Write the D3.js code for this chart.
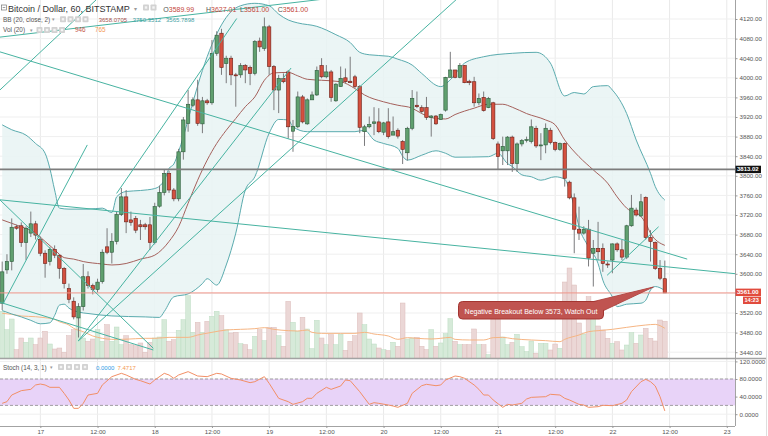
<!DOCTYPE html>
<html><head><meta charset="utf-8">
<script src="https://cdn.jsdelivr.net/npm/d3@7"></script>
<style>
html,body{margin:0;padding:0;background:#fff;}
svg{display:block;font-family:"Liberation Sans",Arial,sans-serif;}
</style></head><body>
<svg id="c" width="768" height="436"></svg>
<script>
// ---------- DATA (hourly candles, index 0 = 16th 16:00) ----------
const opens=[3540,3608,3625,3696,3698,3664,3683,3702,3670,3642, 3625,3650,3638,3611,3570,3544,3510,3533,3594,3576, 3568,3584,3655,3644,3666,3721,3757,3710,3713,3700, 3700,3700,3664,3738,3766,3805,3771,3753,3849,3907, 3944,3955,3906,3953,3949,4050,4091,4029,4040,4006, 4006,4025,4021,4009,4075,4060,4104,4023,3975,3999, 4012,3891,3900,3961,3906,3955,3965,4025,4002,4012, 3953,3982,4000,3993,4002,3982,3890,3900,3907,3910, 3889,3910,3883,3893,3870,3847,3897,3944,3939,3939, 3919,3922,3915,3934,4001,4016,4001,4025,3993,3992, 3949,3960,3939,3949,3865,3851,3851,3879,3825,3865, 3872,3870,3897,3861,3863,3893,3868,3854,3866,3787, 3755,3691,3683,3691,3642,3652,3652,3620,3628,3661, 3649,3634,3698,3730,3718,3756,3674,3664,3611,3589.99];
const highs=[3625,3640,3713,3700,3705,3697,3727,3708,3676,3648, 3655,3658,3640,3614,3580,3552,3540,3620,3605,3580, 3590,3650,3693,3683,3728,3775,3771,3727,3718,3710, 3704,3716,3745,3780,3812,3810,3775,3855,3920,3975, 3960,3996,3961,3957,4077,4095,4100,4045,4045,4010, 4030,4028,4025,4077,4082,4123,4108,4026,4006,4009, 4016,3914,3972,3965,3958,3972,4023,4040,4026,4016, 3989,4023,4019,4043,4006,3985,3904,3921,3940,3938, 3910,3938,3921,3897,3873,3900,3975,3972,3944,3961, 3924,3924,3927,4002,4053,4016,4030,4026,3996,4002, 3968,3972,3961,3951,3870,3880,3881,3882,3868,3875, 3880,3915,3902,3887,3907,3898,3870,3868,3868,3790, 3764,3737,3697,3710,3669,3706,3662,3625,3662,3664, 3669,3700,3761,3735,3763,3758,3689,3666,3628,3627.01];
const lows=[3526,3600,3607,3690,3655,3628,3675,3670,3636,3592, 3617,3632,3590,3570,3540,3507,3470,3525,3570,3558, 3562,3580,3640,3621,3660,3718,3683,3698,3683,3669, 3690,3649,3660,3735,3760,3765,3748,3748,3833,3890, 3940,3902,3887,3945,3945,4045,4006,3989,3985,3941, 4000,3989,3985,4005,4053,4055,4006,3934,3928,3989, 3876,3849,3897,3907,3904,3955,3963,3999,3999,3951, 3951,3982,3989,3989,3979,3887,3861,3897,3883,3887, 3883,3876,3883,3876,3824,3831,3893,3938,3927,3914, 3880,3904,3914,3931,4001,3999,3999,3989,3985,3941, 3944,3931,3938,3873,3812,3822,3822,3808,3808,3860, 3868,3866,3857,3832,3846,3864,3850,3851,3778,3752, 3642,3669,3680,3615,3574,3628,3604,3612,3601,3645, 3628,3630,3696,3717,3716,3670,3625,3608,3587,3561];
const closes=[3604,3625,3695,3693,3664,3693,3702,3679,3642,3621, 3650,3638,3611,3580,3548,3512,3533,3594,3576,3568, 3583,3644,3644,3666,3721,3757,3706,3705,3689,3696, 3696,3664,3737,3766,3805,3771,3753,3849,3914,3946, 3955,3907,3953,3949,4050,4087,4021,4040,4006,4004, 4025,4016,4009,4074,4063,4104,4023,3975,3999,3992, 3900,3901,3961,3910,3955,3965,4015,4002,4012,3960, 3987,3999,3992,3990,3982,3899,3900,3905,3910,3890, 3908,3880,3890,3881,3854,3897,3958,3941,3931,3919, 3922,3906,3925,4001,4016,4001,4025,3990,3990,3949, 3958,3933,3958,3876,3839,3860,3879,3825,3865,3872, 3874,3900,3861,3863,3897,3868,3854,3866,3795,3755, 3691,3683,3691,3632,3652,3645,3621,3618,3661,3649, 3634,3698,3734,3720,3747,3674,3666,3611,3591,3561];
const volumes=[1200,728,1003,214,514,403,514,343,514,686, 360,231,257,146,574,728,1028,514,428,488, 728,428,857,428,797,343,574,343,317,386, 146,403,514,540,985,428,471,711,985,1602, 660,917,660,943,1071,1200,1088,728,643,660, 368,343,214,557,728,446,788,788,574,300, 1457,917,686,1046,746,240,968,514,343,600, 343,617,197,428,574,1157,857,488,360,257, 214,189,403,300,1414,488,514,531,300,214, 728,300,386,626,1011,428,343,343,343,746, 343,343,86,986,986,540,343,400,609,291, 163,437,120,377,377,206,360,249,1954,2314, 1877,900,617,1576,1190,823,720,506,377,420, 206,334,651,377,591,763,506,437,977,946];

// Volume MA (20) read at sampled bars
const volMaIdx=[0,2,4,7,9,11,12,14,15,17,19,21,23,25,28,30,32,35,39,41,44,47,50,53,55,57,60,62,64,65,67,71,74,76,78,81,83,85,87,90,92,94,95,98,101,103,105,107,111,114,117,118,121,123,125,128,131,135,137,138,139];
const volMaVal=[1149,1123,1080,1062,1036,994,933,848,763,677,566,506,480,480,497,506,506,531,531,591,660,720,737,754,780,737,703,694,720,660,634,634,634,660,617,566,480,523,506,489,506,531,480,463,463,523,531,497,463,446,420,480,591,677,703,737,788,848,865,831,765];

// Bollinger Bands (20, close, 2) read at sampled bars
const bbUpIdx=[0,2,5,7,9,10,11,12,14,18,21,23,24,26,29,32,34,35,36,37,38,40,42,44,46,48,50,53,56,58,60,62,66,70,73,75,77,81,83,86,88,92,94,97,101,107,112,115,118,120,122,124,127,128,131,133,136,137,139];
const bbUpVal=[3904,3894,3883,3866,3846,3815,3771,3734,3732,3732,3734,3725,3757,3768,3770,3774,3791,3815,3824,3849,3880,3950,4015,4068,4108,4135,4147,4152,4147,4130,4118,4112,4105,4088,4072,4052,4047,4044,4038,4026,4009,3982,3996,4030,4043,4050,4052,4030,3963,3970,3967,3982,3984,3975,3927,3873,3805,3778,3750.3512];
const bbLoIdx=[0,2,4,6,8,10,11,12,13,14,16,18,23,30,33,34,36,39,42,43,45,47,49,51,53,56,58,60,61,64,74,76,78,80,83,84,85,88,91,93,95,102,104,106,107,109,111,113,116,118,119,120,121,123,125,126,128,129,131,134,135,136,137,139];
const bbLoVal=[3525,3518,3512,3505,3498,3500,3515,3536,3538,3530,3522,3519,3514,3512,3511,3523,3553,3559,3580,3590,3577,3618,3683,3771,3798,3887,3915,3914,3900,3890,3890,3893,3873,3866,3856,3840,3832,3842,3851,3846,3838,3839,3846,3825,3819,3802,3798,3791,3798,3793,3771,3737,3696,3655,3621,3587,3553,3533,3538,3540,3546,3567,3574,3565.7898];
const bbMidIdx=[0,2,4,7,9,11,13,15,17,21,23,26,29,32,35,37,39,41,43,45,47,49,51,53,55,57,60,62,64,67,71,74,76,80,83,86,88,91,93,95,99,102,105,107,110,114,116,118,121,124,127,129,131,134,135,136,139];
const bbMidVal=[3710,3703,3696,3683,3666,3649,3633,3630,3625,3620,3618,3621,3630,3638,3666,3696,3744,3791,3832,3866,3893,3917,3941,3961,3995,4010,4011,4004,3997,3995,3992,3978,3965,3951,3944,3938,3927,3917,3916,3925,3938,3946,3946,3940,3927,3914,3904,3873,3839,3812,3785,3757,3734,3717,3703,3683,3658.0705];

// Stochastic (14,3,1) read at sampled bars
const stochIdx=[0,1,2,4,6,7,8,9,10,12,13,14,15,16,17,18,20,21,23,25,26,28,29,31,32,34,35,36,37,39,41,43,45,46,48,50,52,53,55,56,58,60,61,63,64,65,66,68,69,71,72,73,75,77,78,79,81,82,83,85,86,88,89,91,92,93,95,96,97,99,100,101,102,103,105,106,107,109,110,111,114,115,117,118,119,121,122,123,125,126,128,130,131,132,134,135,136,137,138,139];
const stochVal=[24.7,28.5,43.6,53.5,56.5,66.4,68.6,66.4,61.1,61.1,47.4,32.3,13.3,13.3,24.7,43.6,47.4,66.4,85.3,92.9,89.1,79.2,76.2,68.6,77.7,92.9,89.1,81.5,89.1,96.7,86.8,85.3,92.9,91.4,81.5,77.7,71.7,73.9,85.3,70.2,36.1,28.5,22.4,28.5,36.1,36.1,47.4,61.1,56.5,64.1,77.7,76.2,51.2,22.4,26.2,24.7,20.9,18.6,15.6,24.7,47.4,64.8,67.9,64.8,66.4,77.7,86.8,85.3,81.5,66.4,56.5,43.6,43.6,32.3,15.6,22.4,20.9,24.7,34.5,38.3,39.8,45.2,43.6,36.1,32.3,22.4,20.9,15.6,17.1,20.2,19.4,24.7,32.3,51.2,73.9,79.2,73.9,64.1,39.8,7.4717];
const stochK=0;

// Trend-line drawings: [barIndex, price] endpoints
const trendLines=[
 [[-0.5,4083],[80,4175]],
 [[-0.5,4053],[143.7,3630]],
 [[-0.5,3751],[154,3600]],
 [[-0.5,3751],[31.7,3448]],
 [[-0.5,3542],[31.7,3444.5]],
 [[-0.5,3975],[22,4180]],
 [[0.23,3540],[17.85,3863]],
 [[15.96,3463],[60.6,4020]],
 [[15.96,3463],[97,4175]],
 [[24.0,3764],[49.2,4121]],
 [[126.9,3597],[137.7,3696]]
];
const hLevels=[3813.02,3561.00];

const priceTicks=[3440,3480,3520,3560,3600,3640,3680,3720,3760,3800,3840,3880,3920,3960,4000,4040,4080,4120];
const stochTicks=[0,40,80,120];
const timeTickIdx=[8,20,32,44,56,68,80,92,104,116,128,140,152];
const timeTickLabels=["17","12:00","18","12:00","19","12:00","20","12:00","21","12:00","22","12:00","23"];

const noteText="Negative Breakout Below 3573, Watch Out";
const notePoint=[136.6,3573];

// ---------- SCALES ----------
const svg=d3.select("#c");
const PR=735, PB=358, SB=426;
const x=d3.scaleLinear().domain([0,152]).range([2.2,2.2+4.767*152]);
const y=d3.scaleLinear().domain([3440,4120]).range([352.2,19]);
const yV=d3.scaleLinear().domain([0,2700]).range([358,253]);
const yS=d3.scaleLinear().domain([0,120]).range([414.2,361.4]);
const bw=4.767;
const FONT="Liberation Sans, Arial, sans-serif";

const defs=svg.append("defs");
defs.append("clipPath").attr("id","cp").append("rect").attr("x",0).attr("y",0).attr("width",PR).attr("height",PB);
defs.append("clipPath").attr("id","cs").append("rect").attr("x",0).attr("y",PB+1).attr("width",PR).attr("height",SB-PB-1);

// grid
const g=svg.append("g");
g.selectAll(".vg").data(timeTickIdx).join("line").attr("x1",d=>x(d)).attr("x2",d=>x(d)).attr("y1",0).attr("y2",SB).attr("stroke","#e9e9e9").attr("stroke-width",1);
g.selectAll(".hg").data(priceTicks).join("line").attr("x1",0).attr("x2",PR).attr("y1",d=>y(d)).attr("y2",d=>y(d)).attr("stroke","#efefef");
g.selectAll(".sg").data(stochTicks).join("line").attr("x1",0).attr("x2",PR).attr("y1",d=>yS(d)).attr("y2",d=>yS(d)).attr("stroke","#efefef");

const pane=svg.append("g").attr("clip-path","url(#cp)");
const pts=(I,V)=>I.map((d,k)=>[x(d),y(V[k])]);
const curve=d3.curveMonotoneX;
const lineGen=d3.line().curve(curve);
// BB fill
const up=pts(bbUpIdx,bbUpVal), lo=pts(bbLoIdx,bbLoVal);
const fillPath=lineGen(up)+"L"+lineGen(lo.slice().reverse()).slice(1)+"Z";
pane.append("path").attr("d",fillPath).attr("fill","#e7f3f3").attr("opacity",0.85);

// volume
const isUp=i=>closes[i]>=opens[i];
pane.selectAll(".vb").data(volumes).join("rect")
 .attr("x",(d,i)=>x(i)-bw/2).attr("width",bw)
 .attr("y",d=>yV(d)).attr("height",d=>PB-yV(d))
 .attr("fill",(d,i)=>isUp(i)?"#d6ead9":"#ebd7d6")
 .attr("stroke",(d,i)=>isUp(i)?"#bcdcc2":"#dcbcba").attr("stroke-width",0.5);
pane.append("path").attr("d",d3.line().curve(curve)(volMaIdx.map((d,k)=>[x(d),yV(volMaVal[k])])))
 .attr("fill","none").attr("stroke","#f6b583").attr("stroke-width",1);

// BB lines
pane.append("path").attr("d",lineGen(up)).attr("fill","none").attr("stroke","#5aabae").attr("stroke-width",1);
pane.append("path").attr("d",lineGen(lo)).attr("fill","none").attr("stroke","#5aabae").attr("stroke-width",1);
pane.append("path").attr("d",lineGen(pts(bbMidIdx,bbMidVal))).attr("fill","none").attr("stroke","#a5615c").attr("stroke-width",1);

// candles
const cg=pane.append("g");
cg.selectAll(".wk").data(closes).join("line")
 .attr("x1",(d,i)=>x(i)).attr("x2",(d,i)=>x(i))
 .attr("y1",(d,i)=>y(highs[i])).attr("y2",(d,i)=>y(lows[i]))
 .attr("stroke","#7b7b7d").attr("stroke-width",1);
cg.selectAll(".bd").data(closes).join("rect")
 .attr("x",(d,i)=>x(i)-1.7).attr("width",3.4)
 .attr("y",(d,i)=>y(Math.max(opens[i],d)))
 .attr("height",(d,i)=>Math.max(0.8,Math.abs(y(opens[i])-y(d))))
 .attr("fill",(d,i)=>isUp(i)?"#5f9f6e":"#d4503f")
 .attr("stroke",(d,i)=>isUp(i)?"#2b5a3a":"#6b2018").attr("stroke-width",0.6);

// horizontal levels
pane.append("line").attr("x1",0).attr("x2",PR).attr("y1",y(hLevels[0])).attr("y2",y(hLevels[0])).attr("stroke","#7d7d7d").attr("stroke-width",1.8);
pane.append("line").attr("x1",0).attr("x2",PR).attr("y1",y(hLevels[1])).attr("y2",y(hLevels[1])).attr("stroke","#f0958a").attr("stroke-width",1);

// trend lines
pane.selectAll(".tl").data(trendLines).join("line")
 .attr("x1",d=>x(d[0][0])).attr("y1",d=>y(d[0][1])).attr("x2",d=>x(d[1][0])).attr("y2",d=>y(d[1][1]))
 .attr("stroke","#47b3a1").attr("stroke-width",1);

// callout
const tip=[x(notePoint[0]),y(notePoint[1])];
const bx=458.5, by=301.5, bwid=145, bh=17.5;
const ng=svg.append("g");
ng.append("polygon").attr("points",[[bx+bwid-14,by+1],tip,[bx+bwid-3,by+bh-7]].map(p=>p.join(",")).join(" "))
 .attr("fill","#c05450").attr("stroke","#a33531").attr("stroke-width",0.8);
ng.append("rect").attr("x",bx).attr("y",by).attr("width",bwid).attr("height",bh).attr("rx",4)
 .attr("fill","#c05450").attr("stroke","#a33531").attr("stroke-width",1);
ng.append("polygon").attr("points",[[bx+bwid-13.5,by+1.5],tip,[bx+bwid-3.5,by+bh-7.5]].map(p=>p.join(",")).join(" "))
 .attr("fill","#c05450");
ng.append("text").attr("x",bx+bwid/2).attr("y",by+12).attr("text-anchor","middle")
 .attr("font-size",7).attr("fill","#fff").attr("font-family",FONT).text(noteText);

// stoch pane
const sp=svg.append("g").attr("clip-path","url(#cs)");
sp.append("rect").attr("x",0).attr("width",PR).attr("y",yS(80)).attr("height",yS(20)-yS(80)).attr("fill","#e8d3f8");
[80,20].forEach(v=>sp.append("line").attr("x1",0).attr("x2",PR).attr("y1",yS(v)).attr("y2",yS(v)).attr("stroke","#8a8a8a").attr("stroke-dasharray","3,2").attr("stroke-width",0.8));
sp.append("path").attr("d",d3.line()(stochIdx.map((d,k)=>[x(d),yS(stochVal[k])]))).attr("fill","none").attr("stroke","#f28f66").attr("stroke-width",1);

// frame lines
svg.append("line").attr("x1",0).attr("x2",766).attr("y1",PB+0.5).attr("y2",PB+0.5).attr("stroke","#a3a3a3").attr("stroke-width",1.5);
svg.append("line").attr("x1",0).attr("x2",PR).attr("y1",SB+0.5).attr("y2",SB+0.5).attr("stroke","#a3a3a3");
svg.append("line").attr("x1",PR+0.5).attr("x2",PR+0.5).attr("y1",0).attr("y2",SB).attr("stroke","#a3a3a3");
svg.append("line").attr("x1",766.5).attr("x2",766.5).attr("y1",0).attr("y2",436).attr("stroke","#dedede");

// axes
const lastClose=closes[closes.length-1];
const styleAxis=sel=>{sel.select(".domain").remove();sel.selectAll("line").attr("stroke","#999");sel.selectAll("text").attr("fill","#555").attr("font-size",6.2).attr("font-family",FONT);};
const pAx=svg.append("g").attr("transform",`translate(${PR},0)`).call(d3.axisRight(y).tickValues(priceTicks).tickFormat(d3.format(".2f")).tickSize(2.5).tickPadding(2)).call(styleAxis);
// ticks hidden behind the last-price label
pAx.selectAll(".tick").filter(d=>Math.abs(y(d)-y(lastClose))<6).select("text").remove();
svg.append("g").attr("transform",`translate(${PR},0)`).call(d3.axisRight(yS).tickValues(stochTicks).tickFormat(d3.format(".4f")).tickSize(2.5).tickPadding(2)).call(styleAxis);
svg.append("g").attr("transform",`translate(0,${SB})`).call(d3.axisBottom(x).tickValues(timeTickIdx).tickFormat((d,i)=>timeTickLabels[i]).tickSize(2).tickPadding(1.5)).call(styleAxis);

// price label boxes
const lbl=(v,txt,fill,yOff,xOff,fs)=>{
 const yy=y(v)+yOff;
 svg.append("rect").attr("x",PR+xOff).attr("y",yy-3.7).attr("width",761-PR-xOff).attr("height",7.4).attr("fill",fill);
 svg.append("text").attr("x",PR+xOff+1.5).attr("y",yy+2).attr("font-size",fs).attr("fill","#fff").attr("font-weight","bold").attr("font-family",FONT).text(txt);
};
lbl(hLevels[0],d3.format(".2f")(hLevels[0]),"#111",0,0.5,6);
lbl(lastClose,d3.format(".2f")(lastClose),"#e14b3d",-0.6,0.5,6);
lbl(lastClose,"14:23","#e14b3d",7.4,8,5.6);

// legends
const L=svg.append("g").attr("font-family",FONT);
const icon=(xx,yy)=>{L.append("rect").attr("x",xx).attr("y",yy).attr("width",6).attr("height",6).attr("rx",0.8).attr("fill","#d2d2d2");
 L.append("rect").attr("x",xx+1.8).attr("y",yy+1.8).attr("width",2.4).attr("height",2.4).attr("fill","#f4f4f4");};
L.append("rect").attr("x",1.5).attr("y",5).attr("width",5).attr("height",5).attr("fill","none").attr("stroke","#777").attr("stroke-width",0.7);
L.append("line").attr("x1",2.7).attr("x2",5.3).attr("y1",7.5).attr("y2",7.5).attr("stroke","#777").attr("stroke-width",0.7);
L.append("text").attr("x",8).attr("y",11.5).attr("font-size",9).attr("fill","#333").text("Bitcoin / Dollar, 60, BITSTAMP");
L.append("text").attr("x",134).attr("y",11).attr("font-size",6).attr("fill","#999").text("▾");
icon(143,4.5);icon(150.5,4.5);
const ohlc=[["O",opens[139],163.3],["H",highs[139],206],["L",lows[139],240],["C",closes[139],277.7]];
ohlc.forEach(([k,v,xx])=>{const t=L.append("text").attr("x",xx).attr("y",11.5).attr("font-size",7);
 t.append("tspan").attr("fill","#555").text(k);t.append("tspan").attr("fill","#c4473c").text(d3.format(".2f")(v));});

L.append("text").attr("x",3).attr("y",21.6).attr("font-size",6.4).attr("fill","#555").text("BB (20, close, 2)");
L.append("text").attr("x",52).attr("y",21.3).attr("font-size",5).attr("fill","#999").text("▾");
[60,67.5,75,82.5].forEach(xx=>icon(xx,16.3));
const bbLeg=[[bbMidVal[bbMidVal.length-1],98.7,"#a5524c"],[bbUpVal[bbUpVal.length-1],132.7,"#3f9fa3"],[bbLoVal[bbLoVal.length-1],166,"#3f9fa3"]];
bbLeg.forEach(([v,xx,c])=>L.append("text").attr("x",xx).attr("y",21.6).attr("font-size",6).attr("fill",c).text(d3.format(".4f")(v)));

L.append("text").attr("x",3).attr("y",32.3).attr("font-size",6.4).attr("fill","#555").text("Vol (20)");
L.append("text").attr("x",30).attr("y",32).attr("font-size",5).attr("fill","#999").text("▾");
[36.5,44,51.5,59].forEach(xx=>icon(xx,27));
L.append("text").attr("x",75).attr("y",32.3).attr("font-size",6.4).attr("fill","#c4574c").text(volumes[139]);
L.append("text").attr("x",95).attr("y",32.3).attr("font-size",6.4).attr("fill","#f39a55").text(volMaVal[volMaVal.length-1]);

L.append("text").attr("x",3).attr("y",369.5).attr("font-size",6.4).attr("fill","#555").text("Stoch (14, 3, 1)");
L.append("text").attr("x",50).attr("y",369.2).attr("font-size",5).attr("fill","#999").text("▾");
[58,66,74,82].forEach(xx=>icon(xx,364));
L.append("text").attr("x",96).attr("y",369.5).attr("font-size",6).attr("fill","#2d9be6").text(d3.format(".4f")(stochK));
L.append("text").attr("x",117.5).attr("y",369.5).attr("font-size",6).attr("fill","#f39a55").text(d3.format(".4f")(stochVal[stochVal.length-1]));
</script>
</body></html>
